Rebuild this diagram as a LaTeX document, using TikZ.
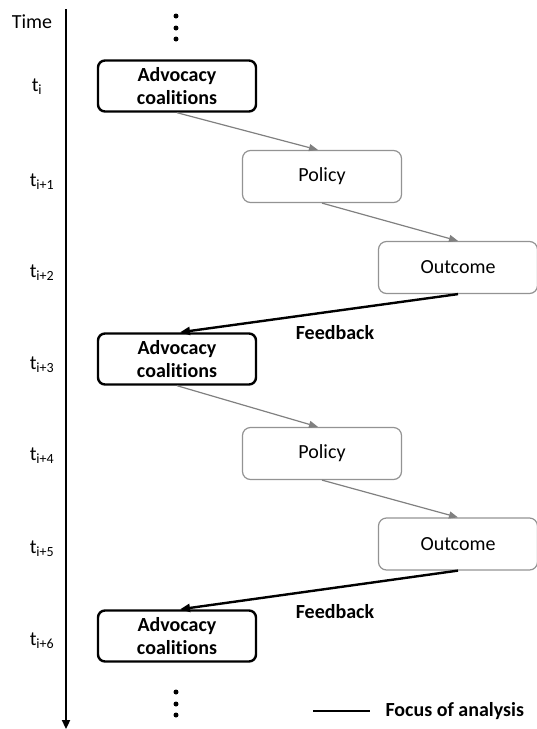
\documentclass[tikz,border=0pt]{standalone}
\usepackage{fontspec}
\setmainfont{Carlito}[Ligatures=NoCommon]
\usetikzlibrary{arrows.meta}
\begin{document}
\begin{tikzpicture}[x=1pt,y=-1pt,
  every node/.style={font=\fontsize{20}{23}\selectfont},
  coalition/.style={draw=black,line width=2.4pt,rounded corners=7pt,minimum width=158pt,minimum height=51pt,align=center,font=\fontsize{20}{23}\selectfont\bfseries,inner sep=0pt},
  stage/.style={draw=gray!85,line width=1.2pt,rounded corners=8pt,minimum width=159pt,minimum height=52pt,inner sep=0pt},
  flow/.style={draw=gray,line width=1.2pt,-{Triangle[length=9pt,width=7pt]}},
  feedback/.style={draw=black,line width=2.4pt,-{Triangle[length=10pt,width=8pt]}},
  tlabel/.style={anchor=center,inner sep=0pt},
  boldlabel/.style={font=\fontsize{20}{23}\selectfont\bfseries},
  dot/.style={circle,fill=black,inner sep=0pt,minimum size=5pt}]
\useasboundingbox (0,0) rectangle (537,729);

% time axis
\coordinate (axtop) at (66,9);
\coordinate (axbot) at (66,729);
\draw[line width=2.4pt,-{Triangle[length=9pt,width=8pt]}] (axtop) -- (axbot);
\node[tlabel] (time) at (32,22) {Time};
\node[tlabel] (t0) at (37,87) {t\textsubscript{i}};
\node[tlabel] (t1) at (42,182) {t\textsubscript{i+1}};
\node[tlabel] (t2) at (42,273) {t\textsubscript{i+2}};
\node[tlabel] (t3) at (42,365) {t\textsubscript{i+3}};
\node[tlabel] (t4) at (42,456) {t\textsubscript{i+4}};
\node[tlabel] (t5) at (42,549) {t\textsubscript{i+5}};
\node[tlabel] (t6) at (42,641) {t\textsubscript{i+6}};

% continuation dots
\node[dot] (d1) at (176,16) {};
\node[dot] (d2) at (176,28) {};
\node[dot] (d3) at (176,39) {};
\node[dot] (d4) at (176,692) {};
\node[dot] (d5) at (176,704) {};
\node[dot] (d6) at (176,715) {};

% first cycle
\node[coalition] (ac1) at (177,86) {Advocacy\\coalitions};
\node[stage] (p1) at (322,176.5) {Policy};
\node[stage] (o1) at (458,267.5) {Outcome};
% second cycle
\node[coalition] (ac2) at (177,359) {Advocacy\\coalitions};
\node[stage] (p2) at (322,453.5) {Policy};
\node[stage] (o2) at (458,544) {Outcome};
% third coalition
\node[coalition] (ac3) at (177,636) {Advocacy\\coalitions};

\draw[flow] (ac1.south) -- (p1.north -| 318,0);
\draw[flow] (p1.south) -- (o1.north);
\draw[feedback] (o1.south) -- (ac2.north -| 180,0);
\node[boldlabel] (fb1) at (335,333) {Feedback};

\draw[flow] (ac2.south) -- (p2.north -| 318,0);
\draw[flow] (p2.south) -- (o2.north);
\draw[feedback] (o2.south) -- (ac3.north -| 180,0);
\node[boldlabel] (fb2) at (335,612) {Feedback};

% legend
\coordinate (lg1) at (313,711);
\coordinate (lg2) at (370,711);
\draw[line width=2.4pt] (lg1) -- (lg2);
\node[anchor=west,boldlabel] (lgt) at (382,711) {Focus of analysis};
\end{tikzpicture}
\end{document}
